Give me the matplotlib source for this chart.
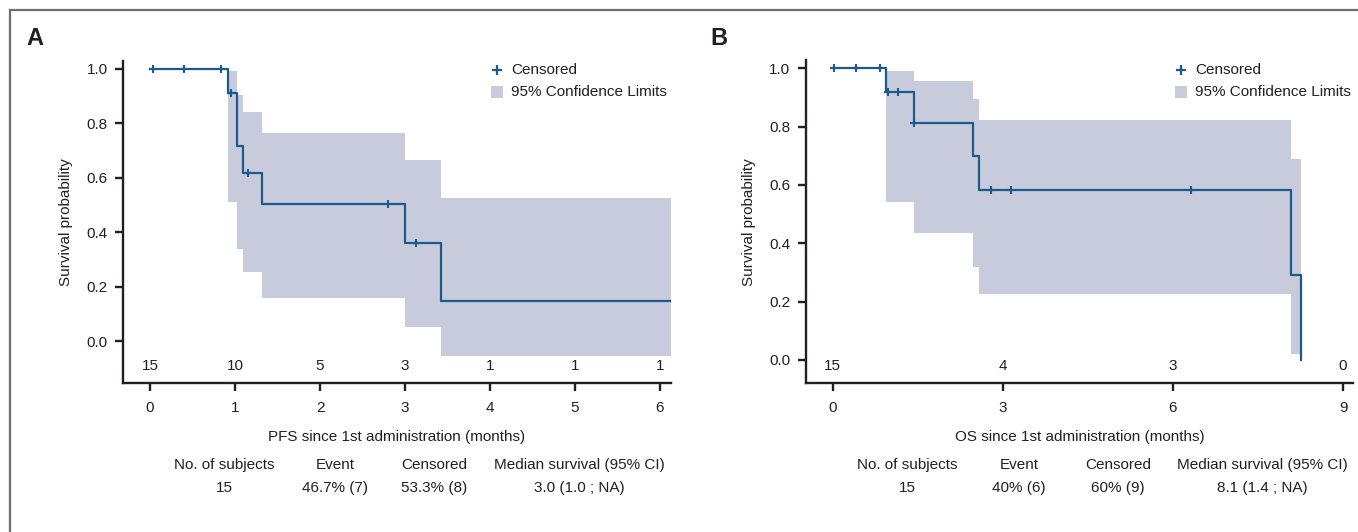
import matplotlib
matplotlib.use("Agg")
import matplotlib.pyplot as plt
from matplotlib.lines import Line2D

plt.rcParams['font.family'] = ['Liberation Sans', 'DejaVu Sans']
NARROW = ['Liberation Sans Narrow', 'Liberation Sans', 'DejaVu Sans']

LINE_COLOR = "#1c5a8c"
BAND_COLOR = "#c8cbdc"
TEXT_COLOR = "#231f20"

# ---- Panel A: PFS ----
pfs_times = [0, 0.92, 1.02, 1.09, 1.32, 3.0, 3.42, 6.13]
pfs_surv = [1.0, 0.912, 0.718, 0.619, 0.505, 0.36, 0.147, 0.147]
pfs_ci_times = [0.92, 1.02, 1.09, 1.32, 3.0, 3.42, 6.13]
pfs_ci_low = [0.51, 0.337, 0.255, 0.159, 0.051, -0.053, -0.053]
pfs_ci_high = [0.993, 0.903, 0.84, 0.763, 0.664, 0.524, 0.524]
pfs_cens_times = [0.03, 0.40, 0.83, 0.95, 1.15, 2.80, 3.13]
pfs_cens_surv = [1.0, 1.0, 1.0, 0.912, 0.619, 0.505, 0.36]
pfs_risk_times = [0, 1, 2, 3, 4, 5, 6]
pfs_at_risk = [15, 10, 5, 3, 1, 1, 1]
pfs_table = ["15", "46.7% (7)", "53.3% (8)", "3.0 (1.0 ; NA)"]

# ---- Panel B: OS ----
os_times = [0, 0.934, 1.43, 2.48, 2.585, 8.08, 8.25]
os_surv = [1.0, 0.917, 0.813, 0.70, 0.583, 0.292, 0.0]
os_ci_times = [0.934, 1.43, 2.48, 2.585, 8.08, 8.25]
os_ci_low = [0.542, 0.436, 0.318, 0.225, 0.02, 0.02]
os_ci_high = [0.99, 0.955, 0.896, 0.824, 0.69, 0.69]
os_cens_times = [0.03, 0.405, 0.834, 0.975, 1.16, 1.43, 2.80, 3.14, 6.32]
os_cens_surv = [1.0, 1.0, 1.0, 0.917, 0.917, 0.813, 0.583, 0.583, 0.583]
os_risk_times = [0, 3, 6, 9]
os_at_risk = [15, 4, 3, 0]
os_table = ["15", "40% (6)", "60% (9)", "8.1 (1.4 ; NA)"]

table_headers = ["No. of subjects", "Event", "Censored", "Median survival (95% CI)"]

W, H = 1358, 532
fig = plt.figure(figsize=(W / 100, H / 100), dpi=100)


def px_x(x):
    return x / W


def px_y(y):
    return 1 - y / H


def km_panel(rect, times, surv, ci_t, ci_lo, ci_hi, c_t, c_s, r_t, r_n,
             xlim, ylim, xticks, risk_y, xlabel, leg_x):
    ax = fig.add_axes(rect)
    ax.fill_between(ci_t, ci_lo, ci_hi, step='post', color=BAND_COLOR, lw=0)
    ax.step(times, surv, where='post', color=LINE_COLOR, lw=1.6)
    ax.plot(c_t, c_s, ls='none', marker='+', ms=6, mew=1.5, color=LINE_COLOR)
    for t, n in zip(r_t, r_n):
        ax.text(t, risk_y, str(n), ha='center', va='center', fontsize=11,
                color=TEXT_COLOR)
    ax.set_xlim(*xlim)
    ax.set_ylim(*ylim)
    ax.set_xticks(xticks)
    ax.set_yticks([0.0, 0.2, 0.4, 0.6, 0.8, 1.0])
    ax.set_yticklabels(["0.0", "0.2", "0.4", "0.6", "0.8", "1.0"])
    for s in ['top', 'right']:
        ax.spines[s].set_visible(False)
    for s in ['left', 'bottom']:
        ax.spines[s].set_linewidth(1.7)
        ax.spines[s].set_color(TEXT_COLOR)
    ax.spines['left'].set_bounds(ylim[0], 1.03)
    ax.tick_params(axis='both', length=5.5, width=1.7, color=TEXT_COLOR,
                   labelsize=11, labelcolor=TEXT_COLOR)
    ax.tick_params(axis='y', pad=5.5)
    ax.tick_params(axis='x', pad=7.5)
    ax.set_xlabel(xlabel, family=NARROW, fontsize=11, color=TEXT_COLOR,
                  va='center')
    ax.xaxis.set_label_coords(0.5, -0.168)
    ax.set_ylabel("Survival probability", family=NARROW, fontsize=11,
                  color=TEXT_COLOR, va='center')
    ax.yaxis.set_label_coords(-0.104, 0.5)
    # legend
    ax.plot([leg_x], [0.972], marker='+', ms=7, mew=1.6, color=LINE_COLOR,
            transform=ax.transAxes, clip_on=False)
    ax.text(leg_x + 0.026, 0.972, "Censored", transform=ax.transAxes,
            va='center', ha='left', fontsize=11, color=TEXT_COLOR)
    ax.plot([leg_x], [0.904], marker='s', ms=8.5, mew=0, color=BAND_COLOR,
            transform=ax.transAxes, clip_on=False)
    ax.text(leg_x + 0.026, 0.904, "95% Confidence Limits",
            transform=ax.transAxes, va='center', ha='left', fontsize=11,
            color=TEXT_COLOR)
    return ax


ax_a = km_panel([px_x(123), px_y(383), (671 - 123) / W, (383 - 61) / H],
                pfs_times, pfs_surv, pfs_ci_times, pfs_ci_low, pfs_ci_high,
                pfs_cens_times, pfs_cens_surv, pfs_risk_times, pfs_at_risk,
                (-0.318, 6.13), (-0.154, 1.029), [0, 1, 2, 3, 4, 5, 6], -0.092,
                "PFS since 1st administration (months)", 0.682)

ax_b = km_panel([px_x(805.7), px_y(383), (1353.3 - 805.7) / W, (383 - 61) / H],
                os_times, os_surv, os_ci_times, os_ci_low, os_ci_high,
                os_cens_times, os_cens_surv, os_risk_times, os_at_risk,
                (-0.476, 9.18), (-0.079, 1.025), [0, 3, 6, 9], -0.02,
                "OS since 1st administration (months)", 0.685)

# summary tables under each panel
cols_a = [224, 335, 434, 579]
cols_b = [907.5, 1019, 1118, 1262.7]
for cols, vals in [(cols_a, pfs_table), (cols_b, os_table)]:
    for cx, head, val in zip(cols, table_headers, vals):
        fig.text(px_x(cx), px_y(465), head, ha='center', va='center',
                 fontsize=11, color=TEXT_COLOR)
        fig.text(px_x(cx), px_y(488), val, ha='center', va='center',
                 fontsize=11, color=TEXT_COLOR)

# panel letters
fig.text(px_x(26), px_y(45), "A", fontsize=17, weight='bold', va='baseline',
         color=TEXT_COLOR)
fig.text(px_x(710), px_y(45), "B", fontsize=17, weight='bold', va='baseline',
         color=TEXT_COLOR)

# frame (top and left edges visible)
fig.add_artist(Line2D([px_x(10), 1], [px_y(10), px_y(10)], color="#6d6d6d",
                      lw=1.6, transform=fig.transFigure))
fig.add_artist(Line2D([px_x(10), px_x(10)], [px_y(10), 0], color="#6d6d6d",
                      lw=1.6, transform=fig.transFigure))

fig.savefig("out.png", dpi=100)
